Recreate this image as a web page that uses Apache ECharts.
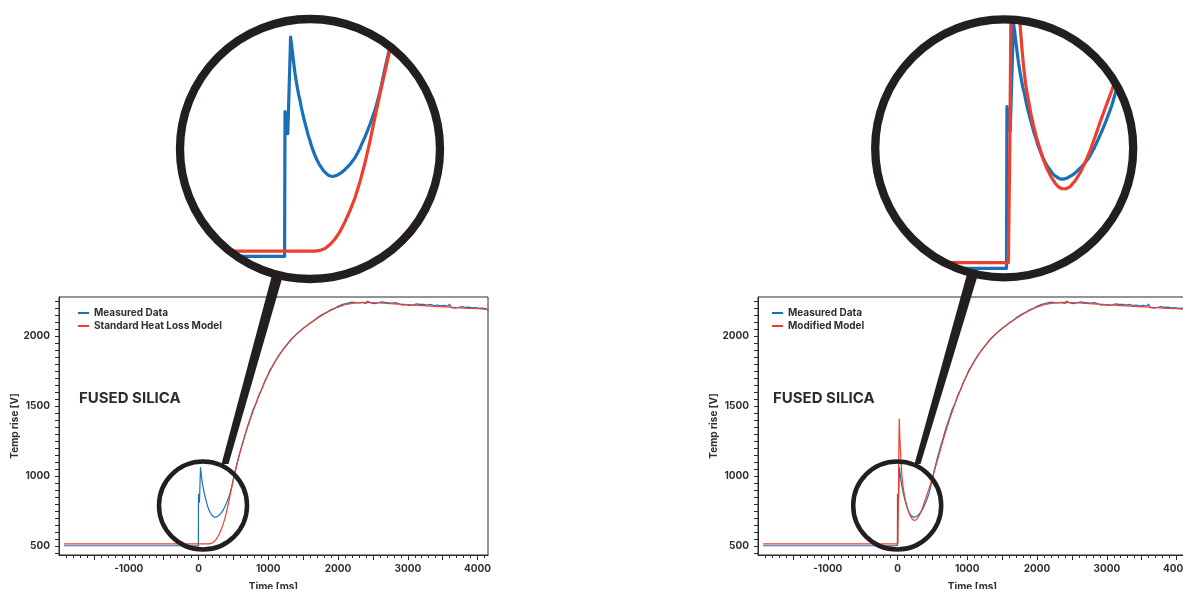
<!DOCTYPE html>
<html><head><meta charset="utf-8">
<script src="https://cdn.jsdelivr.net/npm/echarts@6/dist/echarts.min.js"></script>
<style>html,body{margin:0;padding:0;background:#fff}#c{width:1183px;height:589px}</style>
</head><body><div id="c"></div>
<script>
// ---------------- DATA ----------------
const measuredTime = [-1920,-400,-2,0,6,14,28,33,38,44,50,56,62,68,75,82,90,99,108,116,125,132,140,150,160,171,183,192,200,210,221,230,240,250,260,270,280,290,300,312,325,337,350,362,375,387,400,412,425,437,450,462,475,487,500,525,550,575,600,625,650,675,700,725,750,775,800,825,850,875,900,925,950,975,1000,1025,1050,1075,1100,1125,1150,1175,1200,1225,1250,1275,1300,1325,1350,1375,1400,1425,1450,1475,1500,1525,1550,1575,1600,1625,1650,
1675,1700,1725,1750,1775,1800,1825,1850,1875,1900,1925,1950,1975,2000,2025,2050,2075,2100,2125,2150,2175,2200,2225,2250,2275,2300,2325,2350,2375,2400,2425,2450,2475,2500,2525,2550,2575,2600,2625,2650,2675,2700,2725,2750,2775,2800,2825,2850,2875,2900,2925,2950,2975,3000,3025,3050,3075,3100,3125,3150,3175,3200,3225,3250,3275,3300,3325,3350,3375,3400,3425,3450,3475,3500,3525,3550,3575,3600,3625,3650,3675,3700,3725,3750,3775,3800,3825,3850,3875,3900,3925,3950,3975,4000,4025,4050,4075,4100,4125,4150];
const measuredTemp = [502,502,502,870,866,814,1060,1040,1018,992,968,948,930,914,899,880,862,843,826,810,796,783,772,758,747,736,727,720,715,711,707,705,705,706,708,711,714,718,723,729,736,744,753,764,777,791,806,821,838,855,874,896,921,949,980,1036,1088,1136,1180,1225,1266,1310,1350,1388,1424,1466,1494,1520,1560,1590,1614,1645,1678,1702,1730,1760,1777,1800,1822,1840,1862,1878,1897,1910,1928,1944,1961,1972,1988,1996,2012,2022,2035,2041,2056,2064,2074,2080,2094,2098,2110,
2117,2130,2128,2146,2144,2161,2155,2174,2168,2189,2181,2198,2203,2212,2206,2224,2218,2231,2222,2237,2229,2243,2235,2239,2248,2236,2250,2241,2246,2233,2249,2240,2236,2247,2232,2243,2238,2229,2244,2234,2240,2227,2238,2230,2236,2224,2239,2226,2231,2237,2220,2232,2224,2235,2219,2229,2222,2214,2230,2218,2226,2212,2227,2216,2221,2209,2226,2212,2218,2206,2222,2210,2215,2203,2219,2207,2213,2228,2202,2214,2199,2210,2204,2196,2211,2198,2205,2193,2207,2195,2201,2189,2203,2192,2198,2187,2200,2189,2194,2185];

const standardTime = [-1920,0,150,175,200,225,250,275,300,325,350,375,400,425,450,475,500,525,550,575,600,650,700,750,800,850,900,950,1000,1050,1100,1150,1200,1250,1300,1350,1400,1500,1600,1700,1800,1900,2000,2100,2200,2300,2400,2500,2600,2800,3000,3200,3400,3600,3800,4000,4150];
const standardTemp = [515,515,515,517,522,532,546,565,590,618,651,692,740,795,856,916,972,1028,1080,1130,1178,1264,1344,1418,1488,1553,1614,1672,1725,1774,1818,1858,1894,1927,1957,1985,2010,2053,2091,2126,2157,2184,2207,2224,2234,2239,2240,2239,2236,2230,2224,2218,2212,2206,2200,2195,2191];

const modifiedTime = [-1920,6,12,18,25,28,32,38,45,51,57,64,71,80,92,103,114,128,143,157,171,189,207,221,236,253,271,292,314,335,357,378,400,425,450,475,500,550,600,650,700,750,800,850,900,950,1000,1050,1100,1150,1200,1250,1300,1350,1400,1500,1600,1700,1800,1900,2000,2100,2200,2300,2400,2500,2600,2800,3000,3200,3400,3600,3800,4000,4150];
const modifiedTemp = [515,515,760,1150,1407,1370,1300,1220,1150,1096,1051,1003,962,921,884,852,826,797,771,748,729,710,695,687,683,683,688,701,720,743,771,802,836,872,908,947,988,1075,1160,1250,1332,1410,1482,1551,1613,1672,1725,1774,1818,1858,1894,1927,1957,1985,2010,2053,2091,2126,2157,2184,2207,2224,2234,2239,2240,2239,2236,2230,2224,2218,2212,2206,2200,2195,2191];

const xMajorTicks = [-1500,-1000,-500,0,500,1000,1500,2000,2500,3000,3500,4000];
const xTickLabels = [-1000,0,1000,2000,3000,4000];
const yTicks = [450,500,550,600,650,700,750,800,850,900,950,1000,1050,1100,1150,1200,1250,1300,1350,1400,1450,1500,1550,1600,1650,1700,1750,1800,1850,1900,1950,2000,2050,2100,2150,2200,2250];
const yTickLabels = [500,1000,1500,2000];
const legendLeft = ['Measured Data','Standard Heat Loss Model'];
const legendRight = ['Measured Data','Modified Model'];
const panelTitle = 'FUSED SILICA';
const xName = 'Time [ms]';
const yName = 'Temp rise [V]';

// ---------------- BUILD ----------------
const xMinorTicks = [];
for (let v = -1900; v <= 4100; v += 100) if (v % 500 !== 0) xMinorTicks.push(v);
const zip = (t, v) => t.map((x, i) => [x, v[i]]);
const measured = zip(measuredTime, measuredTemp);
const standard = zip(standardTime, standardTemp);
const modified = zip(modifiedTime, modifiedTemp);

const BLUE = '#1a70b7', RED = '#ee3f2c', INK = '#2a2a2e', TXT = '#2f2f35';
const FONT = 'Inter, "Open Sans", sans-serif';
const X_MIN = -2000, X_MAX = 4150, Y_MIN = 436, Y_MAX = 2279;
const plain = v => String(v);

function mainX(grid) {
  return [{
    type: 'value', gridIndex: grid, position: 'bottom', min: X_MIN, max: X_MAX,
    axisLine: { show: true, onZero: false, lineStyle: { color: INK, width: 1 } },
    axisTick: { show: true, customValues: xMajorTicks, length: 5, lineStyle: { color: INK, width: 1 } },
    axisLabel: { customValues: xTickLabels, formatter: plain, fontSize: 10, fontWeight: 'bold', color: TXT, fontFamily: FONT, margin: 9 },
    splitLine: { show: false },
    name: xName, nameLocation: 'middle', nameGap: 27,
    nameTextStyle: { fontSize: 10, fontWeight: 'bold', color: TXT, fontFamily: FONT }
  }, {
    type: 'value', gridIndex: grid, position: 'bottom', min: X_MIN, max: X_MAX,
    axisLine: { show: false, onZero: false },
    axisTick: { show: true, customValues: xMinorTicks, length: 3, lineStyle: { color: INK, width: 1 } },
    axisLabel: { show: false }, splitLine: { show: false }
  }];
}
function mainY(grid) {
  return {
    type: 'value', gridIndex: grid, position: 'left', min: Y_MIN, max: Y_MAX,
    axisLine: { show: true, onZero: false, lineStyle: { color: INK, width: 1 } },
    axisTick: { show: true, customValues: yTicks, length: 4, lineStyle: { color: INK, width: 1 } },
    axisLabel: { customValues: yTickLabels, formatter: plain, fontSize: 10, fontWeight: 'bold', color: TXT, fontFamily: FONT, margin: 9 },
    splitLine: { show: false },
    name: yName, nameLocation: 'middle', nameGap: 33, nameRotate: 90,
    nameTextStyle: { fontSize: 10, fontWeight: 'bold', color: TXT, fontFamily: FONT }
  };
}
function insetX(grid, min, max) {
  return { type: 'value', gridIndex: grid, min, max, show: false, splitLine: { show: false } };
}
function insetY(grid, min, max) {
  return { type: 'value', gridIndex: grid, min, max, show: false, splitLine: { show: false } };
}
function line(name, data, color, xi, yi, w, z) {
  return { type: 'line', name, data, xAxisIndex: xi, yAxisIndex: yi, symbol: 'none', showSymbol: false,
    lineStyle: { color, width: w, join: 'round', cap: 'round' }, itemStyle: { color }, clip: true, z: z || 2, silent: true, animation: false };
}
function mask(cx, cy, r, pad) {
  const L = cx - r - pad, R = cx + r + pad, T = cy - r - pad, B = cy + r + pad;
  const pts = [[L, cy], [L, T], [R, T], [R, B], [L, B], [L, cy], [cx - r, cy]];
  const N = 180;
  for (let k = 1; k <= N; k++) {
    const a = Math.PI - 2 * Math.PI * k / N;
    pts.push([cx + r * Math.cos(a), cy + r * Math.sin(a)]);
  }
  return { type: 'polygon', shape: { points: pts }, style: { fill: '#fff' }, z: 100, silent: true };
}
function ring(cx, cy, r, w) {
  return { type: 'circle', shape: { cx, cy, r }, style: { fill: 'none', stroke: '#231f20', lineWidth: w }, z: 110, silent: true };
}
function handle(pts) {
  return { type: 'polygon', shape: { points: pts }, style: { fill: '#231f20' }, z: 110, silent: true };
}
function legend(left, data) {
  return { left, top: 302, padding: 5, orient: 'vertical', itemWidth: 11, itemHeight: 2, itemGap: 1, icon: 'rect',
    selectedMode: false, data, textStyle: { fontSize: 10, fontWeight: 'bold', color: TXT, fontFamily: FONT, lineHeight: 12 } };
}
function grid(left, top, width, height, framed) {
  return { left, top, width, height, show: !!framed, borderColor: INK, borderWidth: 1,
    containLabel: false, outerBoundsMode: 'none' };
}

const chart = echarts.init(document.getElementById('c'), null, { renderer: 'canvas' });
chart.setOption({
  animation: false,
  backgroundColor: '#fff',
  grid: [
    grid(59, 297, 429, 258, true),
    grid(758, 297, 429, 258, true),
    grid(177, 15, 266, 268),
    grid(872, 15, 265, 267)
  ],
  xAxis: [...mainX(0), ...mainX(1), insetX(2, -540, 790), insetX(3, -578, 557)],
  yAxis: [mainY(0), mainY(1), insetY(2, 434, 1116), insetY(3, 471, 1078)],
  legend: [legend(73, legendLeft), legend(767, legendRight)],
  series: [
    line('Measured Data', measured, BLUE, 0, 0, 1.2),
    line('Standard Heat Loss Model', standard, RED, 0, 0, 1.2, 3),
    line('Measured Data', measured, BLUE, 2, 1, 1.2),
    line('Modified Model', modified, RED, 2, 1, 1.2, 3),
    line('inset measured L', measured, BLUE, 4, 2, 3.2),
    line('inset standard L', standard, RED, 4, 2, 3.2, 3),
    line('inset measured R', measured, BLUE, 5, 3, 3.2),
    line('inset modified R', modified, RED, 5, 3, 3.2, 3)
  ],
  graphic: [
    mask(310, 149, 131, 6),
    mask(1004.2, 148.3, 130, 6),
    ring(310, 149, 130, 8.3),
    ring(1004.2, 148.3, 129, 8.3),
    ring(203, 505.5, 44, 4.5),
    ring(897.2, 505.5, 44, 4.5),
    handle([[271.5, 277], [282.5, 277], [228.5, 464], [221.5, 464]]),
    handle([[966.5, 276], [977.5, 276], [920.5, 464], [914.5, 464]]),
    { type: 'text', left: 79, top: 391, z: 50, silent: true,
      style: { text: panelTitle, fontSize: 15, fontWeight: 'bold', fill: '#2b2b35', fontFamily: FONT } },
    { type: 'text', left: 773, top: 391, z: 50, silent: true,
      style: { text: panelTitle, fontSize: 15, fontWeight: 'bold', fill: '#2b2b35', fontFamily: FONT } }
  ]
});
</script></body></html>
